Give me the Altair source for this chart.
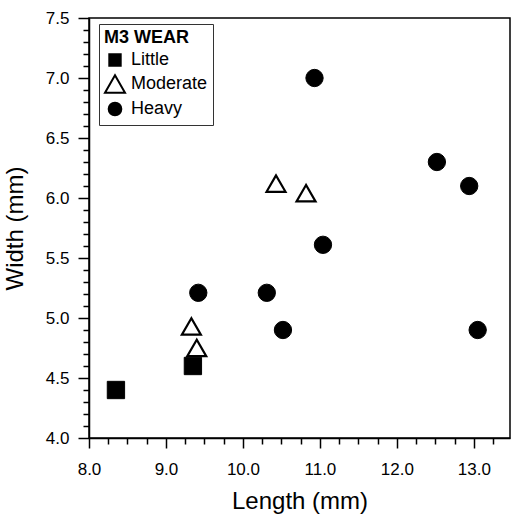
import altair as alt
import pandas as pd

wear = ["Little", "Little",
        "Moderate", "Moderate", "Moderate", "Moderate",
        "Heavy", "Heavy", "Heavy", "Heavy", "Heavy", "Heavy", "Heavy", "Heavy"]
length = [8.35, 9.35,
          9.33, 9.40, 10.43, 10.82,
          9.42, 10.93, 10.31, 10.52, 11.04, 12.52, 12.94, 13.05]
width = [4.40, 4.60,
         4.93, 4.75, 6.12, 6.04,
         5.21, 7.00, 5.21, 4.90, 5.61, 6.30, 6.10, 4.90]

categories = ["Little", "Moderate", "Heavy"]
shapes = ["square", "triangle-up", "circle"]
fills = ["black", "white", "black"]
strokes = ["black", "black", "black"]
legend_sizes = [130, 400, 160]

x_ticks = [round(8 + 0.25 * i, 2) for i in range(22)]
y_ticks = [round(4 + 0.1 * i, 1) for i in range(36)]

df = pd.DataFrame({"Length": length, "Width": width, "Wear": wear})

font = "Liberation Sans"
x_major = "abs(datum.value - round(datum.value)) < 0.001"
y_major = "abs(datum.value*2 - round(datum.value*2)) < 0.001"

legend = alt.Legend(title="M3 WEAR", symbolOpacity=1, symbolStrokeWidth=2)

x_enc = alt.X("Length:Q",
              scale=alt.Scale(domain=[8, 13.47], nice=False, zero=False),
              axis=alt.Axis(values=x_ticks, title="Length (mm)",
                            labelExpr=f"({x_major}) ? format(datum.value, '.1f') : ''",
                            tickSize={"condition": {"test": x_major, "value": 10}, "value": 6},
                            labelPadding=13, labelOverlap=False, labelFlush=False,
                            titlePadding=12))
y_enc = alt.Y("Width:Q",
              scale=alt.Scale(domain=[4, 7.5], nice=False, zero=False),
              axis=alt.Axis(values=y_ticks, title="Width (mm)",
                            labelExpr=f"({y_major}) ? format(datum.value, '.1f') : ''",
                            tickSize={"condition": {"test": y_major, "value": 11}, "value": 6},
                            labelPadding=9, labelOverlap=False, labelFlush=False,
                            titlePadding=18))
shape_enc = alt.Shape("Wear:N", scale=alt.Scale(domain=categories, range=shapes), legend=legend)
fill_enc = alt.Fill("Wear:N", scale=alt.Scale(domain=categories, range=fills), legend=legend)
stroke_enc = alt.Stroke("Wear:N", scale=alt.Scale(domain=categories, range=strokes), legend=legend)

is_mod = alt.datum.Wear == "Moderate"

# layer that only feeds the legend (invisible in the plot)
legend_layer = alt.Chart(df).mark_point(filled=False, strokeWidth=2, opacity=0).encode(
    x=x_enc, y=y_enc, shape=shape_enc, fill=fill_enc, stroke=stroke_enc,
    size=alt.Size("Wear:N", scale=alt.Scale(type="ordinal", domain=categories, range=legend_sizes),
                  legend=legend),
)

points = alt.Chart(df).mark_point(filled=False, opacity=1).encode(
    x=x_enc, y=y_enc, shape=shape_enc, fill=fill_enc, stroke=stroke_enc,
    size=alt.condition(is_mod, alt.value(360), alt.value(300)),
    strokeWidth=alt.condition(is_mod, alt.value(2.2), alt.value(1)),
)

chart = alt.layer(legend_layer, points).properties(
    width=421, height=420,
    padding={"left": 89, "top": 18, "right": 1, "bottom": 77},
    autosize=alt.AutoSizeParams(type="none"),
).configure_view(
    stroke="black", strokeWidth=1.5
).configure_axis(
    domainColor="black", domainWidth=1.5, tickColor="black", tickWidth=1.5,
    labelFont=font, labelFontSize=17, labelColor="black",
    titleFont=font, titleFontSize=24, titleFontWeight="normal", titleColor="black",
    grid=False,
).configure_legend(
    orient="none", legendX=10, legendY=6,
    strokeColor="#333333", strokeWidth=1, fillColor="white",
    padding=5, rowPadding=1, titlePadding=4, labelOffset=5,
    titleFont=font, titleFontSize=18, titleFontWeight="bold", titleColor="black",
    labelFont=font, labelFontSize=18, labelColor="black",
)

chart.save("out.html", embed_options={"renderer": "svg", "actions": False})
